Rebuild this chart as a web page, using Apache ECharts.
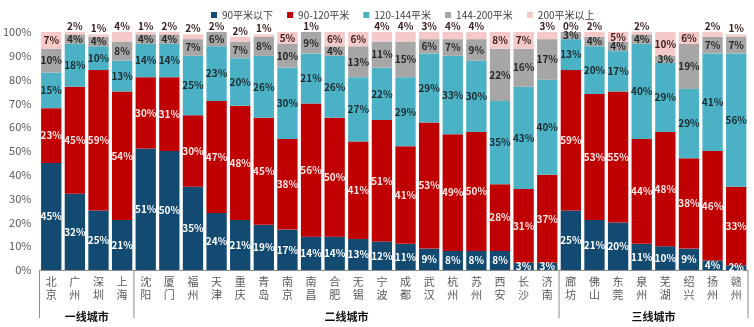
<!DOCTYPE html>
<html><head><meta charset="utf-8">
<script src="https://cdn.jsdelivr.net/npm/echarts@6/dist/echarts.min.js"></script>
<style>html,body{margin:0;padding:0;background:#fff}#c{width:754px;height:327px}</style>
</head><body><div id="c"></div>
<script>
var cities = ['北京','广州','深圳','上海','沈阳','厦门','福州','天津','重庆','青岛','南京','南昌','合肥','无锡','宁波','成都','武汉','杭州','苏州','西安','长沙','济南','廊坊','佛山','东莞','泉州','芜湖','绍兴','扬州','赣州'];
var seriesNames = ['90平米以下','90-120平米','120-144平米','144-200平米','200平米以上'];
var s90 =     [45,32,25,21,51,50,35,24,21,19,17,14,14,13,12,11,9,8,8,8,3,3,25,21,20,11,10,9,4,2];
var s90_120 = [23,45,59,54,30,31,30,47,48,45,38,56,50,41,51,41,53,49,50,28,31,37,59,53,55,44,48,38,46,33];
var s120_144 =[15,18,10,13,14,14,25,23,20,26,30,21,26,27,22,29,29,33,30,35,43,40,13,20,17,40,29,29,41,56];
var s144_200 =[10,4,4,8,4,4,7,6,7,8,10,9,4,13,11,15,6,7,9,22,16,17,3,4,4,4,3,19,7,7];
var s200 =    [7,2,1,4,1,2,2,2,2,1,5,1,6,6,4,4,3,4,4,8,7,3,0,2,5,2,10,6,2,1];
var groups = [{name:'一线城市',from:0,to:3},{name:'二线城市',from:4,to:21},{name:'三线城市',from:22,to:29}];
var yTicks = [0,10,20,30,40,50,60,70,80,90,100];

var colors = ['#134A72','#C00000','#4BB2C5','#A6A6A6','#F6C9C9'];
var labelColors = ['#ffffff','#ffe8e8','#1a2a30','#262626','#3a2020'];
var allData = [s90,s90_120,s120_144,s144_200,s200];

var chart = echarts.init(document.getElementById('c'));
var series = allData.map(function(arr, si){
  return {
    name: seriesNames[si], type:'bar', stack:'t', barCategoryGap:'14%',
    itemStyle:{color:colors[si]},
    data: arr.map(function(v){
      var d = {value:v};
      if (si === 4 && v < 5) d.label = {position:'top', distance:1};
      return d;
    }),
    label:{show:true, position:'inside', formatter:'{c}%', color:labelColors[si],
      fontSize:10, fontWeight:'bold', fontFamily:'Noto Sans CJK SC'}
  };
});

chart.setOption({
  animation:false,
  textStyle:{fontFamily:'Noto Sans CJK SC'},
  legend:{top:5, left:206, itemWidth:6, itemHeight:6, itemGap:14,
    textStyle:{fontSize:10,color:'#404040'}, data:seriesNames.map(function(n,i){return {name:n, icon:'rect'};})},
  grid:{left:38, right:6, top:32, bottom:57},
  xAxis:{type:'category', data:cities,
    axisLine:{lineStyle:{color:'#8c8c8c'}}, axisTick:{show:false},
    axisLabel:{interval:0, fontSize:11, color:'#595959', lineHeight:13, margin:5,
      formatter:function(v){return v.split('').join('\n');}}},
  yAxis:{type:'value', min:0, max:100, interval:10,
    axisLabel:{formatter:'{value}%', fontSize:11, color:'#595959'},
    splitLine:{show:false}, axisLine:{show:false}, axisTick:{show:false}},
  series: series
});

function drawGroups(){
  var step = chart.convertToPixel({xAxisIndex:0}, cities[1]) - chart.convertToPixel({xAxisIndex:0}, cities[0]);
  var y0 = chart.convertToPixel({yAxisIndex:0}, yTicks[0]);
  var els = [];
  var bounds = [];
  groups.forEach(function(g, gi){
    var xl = chart.convertToPixel({xAxisIndex:0}, cities[g.from]) - step/2;
    var xr = chart.convertToPixel({xAxisIndex:0}, cities[g.to]) + step/2;
    if (gi === 0) bounds.push(xl);
    bounds.push(xr);
    els.push({type:'text', x:(xl+xr)/2, y:y0+41, style:{text:g.name, fontSize:11, fontWeight:'bold',
      fill:'#111', align:'center', fontFamily:'Noto Sans CJK SC'}});
  });
  bounds.forEach(function(x){
    els.push({type:'line', shape:{x1:x, y1:y0, x2:x, y2:y0+48}, style:{stroke:'#8c8c8c', lineWidth:1}});
  });
  chart.setOption({graphic:els});
}
drawGroups();
</script></body></html>
